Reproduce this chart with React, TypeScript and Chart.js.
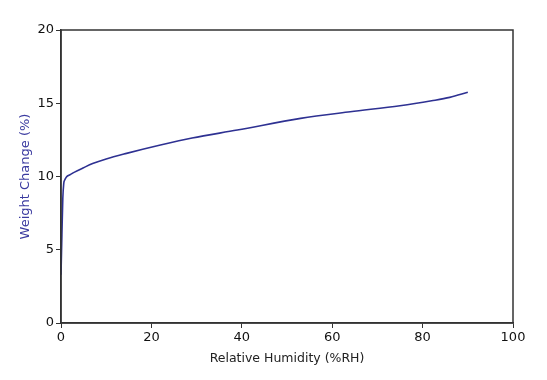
import React, { useEffect, useRef } from "react";
import { Chart, registerables } from "chart.js";

Chart.register(...registerables);

const rhValues = [0, 0.2, 0.4, 0.6, 0.8, 1.2, 2, 3, 5, 7, 10, 14.5, 22, 29, 39, 53, 64, 75, 82, 86, 90];
const weightValues = [3.3, 6.0, 8.5, 9.5, 9.75, 9.97, 10.12, 10.3, 10.6, 10.88, 11.2, 11.58, 12.15, 12.63, 13.17, 13.97, 14.42, 14.83, 15.17, 15.4, 15.75];
const xTitle = "Relative Humidity (%RH)";
const yTitle = "Weight Change (%)";

const FONT = "'DejaVu Sans', sans-serif";

const boxPlugin = {
  id: "boxPlugin",
  afterDraw(chart: any) {
    const { ctx, chartArea } = chart;
    ctx.save();
    ctx.strokeStyle = "#333333";
    ctx.lineWidth = 1.5;
    ctx.strokeRect(chartArea.left, chartArea.top, chartArea.right - chartArea.left, chartArea.bottom - chartArea.top);
    ctx.restore();
  },
};

export default function App() {
  const ref = useRef<HTMLCanvasElement>(null);
  useEffect(() => {
    document.body.style.margin = "0";
    const chart = new Chart(ref.current!, {
      type: "line",
      data: {
        datasets: [
          {
            data: rhValues.map((x, i) => ({ x, y: weightValues[i] })),
            borderColor: "#2e3192",
            borderWidth: 1.6,
            pointRadius: 0,
            cubicInterpolationMode: "monotone",
            fill: false,
          },
        ],
      },
      options: {
        animation: false,
        responsive: false,
        layout: { padding: { left: 14, right: 34, top: 30, bottom: 10 } },
        plugins: { legend: { display: false }, tooltip: { enabled: false } },
        scales: {
          x: {
            type: "linear",
            min: 0,
            max: 100,
            ticks: { stepSize: 20, color: "#111", font: { family: FONT, size: 13 }, padding: 2 },
            grid: { drawOnChartArea: false, drawTicks: true, tickLength: 5, color: "#333" },
            border: { color: "#333", width: 1.5 },
            title: { display: true, text: xTitle, color: "#222", font: { family: FONT, size: 12.5 }, padding: { top: 5 } },
            afterFit(scale: any) {
              scale.height = 47;
            },
          },
          y: {
            min: 0,
            max: 20,
            ticks: { stepSize: 5, color: "#111", font: { family: FONT, size: 13 }, padding: 2 },
            grid: { drawOnChartArea: false, drawTicks: true, tickLength: 5, color: "#333" },
            border: { color: "#333", width: 1.5 },
            title: { display: true, text: yTitle, color: "#3b3ba0", font: { family: FONT, size: 13 }, padding: { bottom: 2 } },
            afterFit(scale: any) {
              scale.width = 47;
            },
          },
        },
      },
      plugins: [boxPlugin],
    } as any);
    return () => chart.destroy();
  }, []);
  return <canvas ref={ref} width={547} height={380} style={{ display: "block" }} />;
}
